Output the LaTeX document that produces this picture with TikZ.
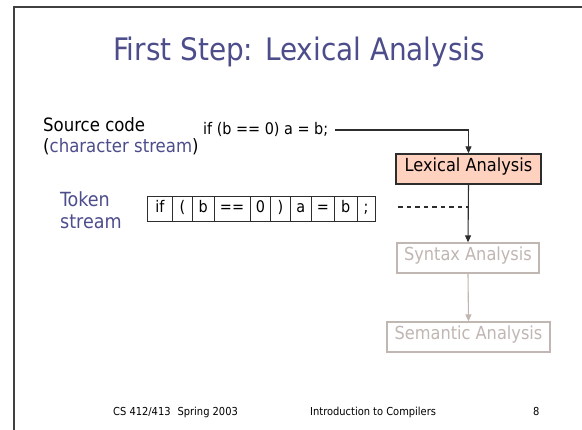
\documentclass[tikz,border=0pt]{standalone}
\usepackage{fontspec}
\setmainfont{DejaVu Sans Condensed}
\usetikzlibrary{arrows.meta}
\definecolor{titleblue}{RGB}{77,77,140}
\definecolor{framegray}{RGB}{64,64,64}
\definecolor{lexfill}{RGB}{255,210,192}
\definecolor{faded}{RGB}{192,182,178}
\definecolor{inkgray}{RGB}{45,45,45}
\begin{document}
\begin{tikzpicture}[x=1pt,y=-1pt,
  lbl/.style={inner sep=0pt, anchor=base west, font=\fontsize{18.4}{22}\selectfont},
  foot/.style={inner sep=0pt, anchor=base west, font=\fontsize{11}{13}\selectfont},
  stagebox/.style={draw, line width=1.3pt, inner sep=0pt, minimum height=30pt,
    text height=0.72em, text depth=0.2em, font=\fontsize{18}{21}\selectfont},
  tok/.style={draw=inkgray, line width=1pt, inner sep=0pt, minimum height=25pt,
    text height=0.75em, text depth=0.2em, font=\fontsize{16}{19}\selectfont},
  flow/.style={line width=1.1pt, -{Triangle[length=7pt,width=6pt]}},
]
\useasboundingbox[fill=white] (0,0) rectangle (582,430);
% slide frame
\draw[framegray, line width=2pt] (14,430) -- (14,7) -- (582,7);

% title
\node[inner sep=0pt, anchor=base, text=titleblue, font=\fontsize{31}{37}\selectfont]
  (title) at (299,61) {First Step: Lexical Analysis};

% source code input
\node[lbl] (srclbl) at (43,132) {Source code};
\node[lbl] (srcsub) at (43,153) {(\textcolor{titleblue}{character stream})};
\node[inner sep=0pt, anchor=base west, font=\fontsize{16}{19}\selectfont]
  (code) at (203,135) {if (b == 0) a = b;};

% compiler stages
\node[stagebox, draw=inkgray, fill=lexfill, minimum width=145pt] (lex) at (468.5,169) {Lexical Analysis};
\node[stagebox, draw=faded, text=faded, minimum width=142pt] (syn) at (468,258) {Syntax Analysis};
\node[stagebox, draw=faded, text=faded, minimum width=163pt] (sem) at (468.5,337) {Semantic Analysis};

\draw[flow, inkgray] ([xshift=7pt]code.east) -| (lex.north);
\draw[flow, inkgray] (lex.south) -- (syn.north);
\draw[flow, faded] (syn.south) -- (sem.north);

% token stream output
\node[lbl, text=titleblue, font=\fontsize{19.5}{23}\selectfont] (toklbl) at (60,207) {Token};
\node[lbl, text=titleblue, font=\fontsize{19.5}{23}\selectfont] (toklbl2) at (60,229) {stream};
\node[tok, minimum width=25.4pt] (t1) at (160,209.5) {if};
\node[tok, minimum width=19.6pt] (t2) at (182.5,209.5) {(};
\node[tok, minimum width=21.7pt] (t3) at (203.15,209.5) {b};
\node[tok, minimum width=36pt] (t4) at (232,209.5) {==};
\node[tok, minimum width=20.7pt] (t5) at (260.35,209.5) {0};
\node[tok, minimum width=19.3pt] (t6) at (280.35,209.5) {)};
\node[tok, minimum width=21.7pt] (t7) at (300.85,209.5) {a};
\node[tok, minimum width=22.3pt] (t8) at (322.85,209.5) {=};
\node[tok, minimum width=23.3pt] (t9) at (345.65,209.5) {b};
\node[tok, minimum width=17.7pt] (t10) at (366.15,209.5) {;};

\coordinate (dashL) at (398,207);
\draw[inkgray, line width=1.1pt, dash pattern=on 4.5pt off 4pt] (dashL) -- (dashL -| lex.south);

% footer
\node[foot] (f1) at (113,416) {CS 412/413\hspace{7pt}Spring 2003};
\node[foot] (f2) at (310,416) {Introduction to Compilers};
\node[foot] (f3) at (533,416) {8};
\end{tikzpicture}
\end{document}
